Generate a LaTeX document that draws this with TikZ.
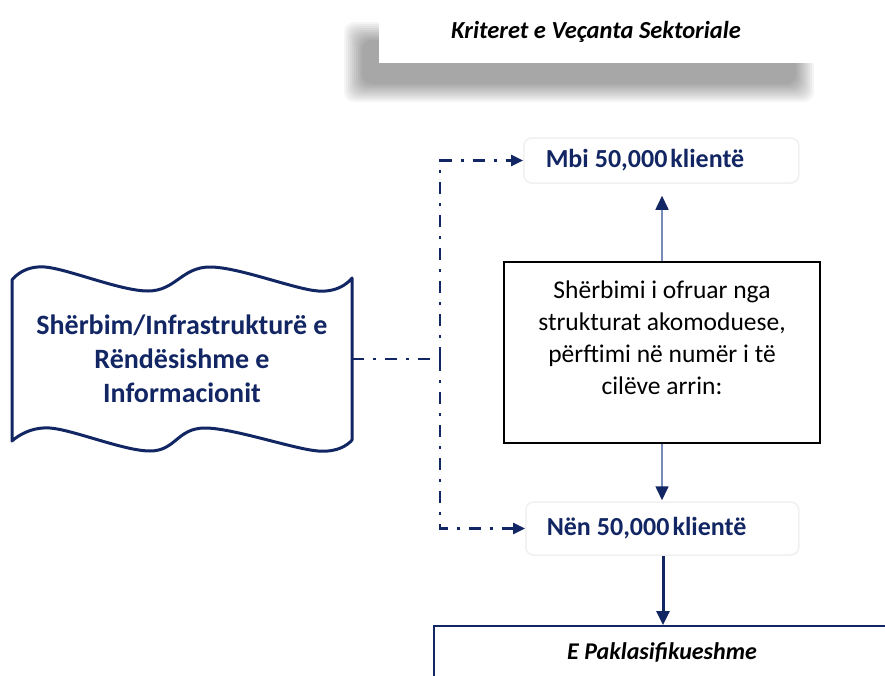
\documentclass[tikz,border=0pt]{standalone}
\usepackage{fontspec}
\setmainfont{Carlito}
\usetikzlibrary{arrows.meta}
\definecolor{navy}{RGB}{18,38,100}
\definecolor{shaft}{RGB}{120,140,185}
\tikzset{
  dashdot/.style={navy, line width=2.5pt, dash pattern=on 12pt off 9pt on 3pt off 9pt},
  tip/.style={-{Triangle[length=12pt,width=11pt]}},
  thintip/.style={shaft, line width=1.6pt, -{Triangle[length=14pt,width=13pt,color=navy]}},
  softbox/.style={draw=black!6, line width=1.5pt, rounded corners=8pt, fill=white},
  lbl/.style={font=\fontsize{26}{30}\selectfont\bfseries, text=navy}
}
\begin{document}
\begin{tikzpicture}[x=1pt,y=-1pt]
\useasboundingbox (0,0) rectangle (885,675);
\fill[white] (0,0) rectangle (885,675);
% title shadow
\foreach \e in {18,16,14,12,10,8,6,4,2,0}{
  \fill[black, opacity=0.04, rounded corners=10pt] (362-\e,40-\e) rectangle (796+\e,84+\e);
}
\node[fill=white, minimum width=435pt, minimum height=63pt, inner sep=0pt,
      font=\fontsize{24.5}{28}\selectfont\bfseries\itshape] (title) at (596,31.5) {Kriteret e Veçanta Sektoriale};

% wavy source shape
\draw[navy, line width=3pt, fill=white, line join=round]
  plot[smooth, tension=0.6] coordinates {(12,280) (45,267) (148,291) (210,267) (318,291) (352,278)}
  -- (352,440)
  -- plot[smooth, tension=0.6] coordinates {(352,440) (318,451) (205,428) (150,451) (50,428) (12,441)}
  -- cycle;
\node[align=center, minimum width=340pt, minimum height=160pt, inner sep=0pt, text=navy,
      font=\fontsize{28}{34}\selectfont\bfseries] (src) at (182,359)
  {Shërbim/Infrastrukturë e\\Rëndësishme e\\Informacionit};

% outcome boxes
\node[softbox, lbl, text width=231pt, align=left, inner xsep=22pt, inner ysep=0pt,
      minimum height=45pt, anchor=west] (mbi) at (523,160.5) {Mbi\hspace{6pt}50,000\hspace{3pt}klientë};
\node[softbox, lbl, text width=231pt, align=left, inner xsep=21pt, inner ysep=0pt,
      minimum height=53pt, anchor=west] (nen) at (525,528.5) {Nën\hspace{6pt}50,000\hspace{3pt}klientë};

% middle box
\node[draw=black, line width=2.5pt, minimum width=316pt, minimum height=181pt, inner sep=0pt] (mid) at (662,352.5) {};
\node[align=center, font=\fontsize{25.5}{32}\selectfont, anchor=north] (midtxt) at (662,277)
  {Shërbimi i ofruar nga\\strukturat akomoduese,\\përftimi në numër i të\\cilëve arrin:};

% bottom box
\node[draw=navy, line width=2pt, minimum width=460pt, minimum height=70pt, anchor=north west, inner sep=0pt] (epk) at (433,625) {};
\node[font=\fontsize{24}{28}\selectfont\bfseries\itshape] (epktxt) at (662,652) {E Paklasifikueshme};

% connectors
\coordinate (j) at (440,359);
\draw[dashdot] (src.east) -- (j);
\draw[dashdot, tip] (j) |- (mbi.west);
\draw[dashdot, tip] (j) |- (nen.west);
\draw[thintip, shorten >=12pt] (mid.north) -- (mid.north |- mbi.south);
\draw[thintip, shorten >=1pt] (mid.south) -- (mid.south |- nen.north);
\draw[navy, line width=3pt, -{Triangle[length=14pt,width=13pt]}] (nen.south -| 663,0) -- (663,625);
\end{tikzpicture}
\end{document}
